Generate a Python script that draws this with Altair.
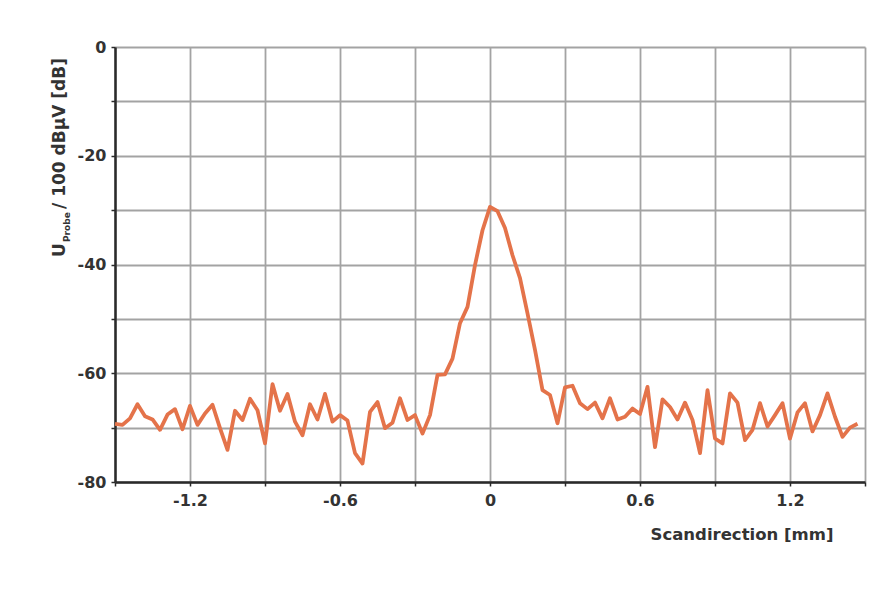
import altair as alt
import pandas as pd

scan_mm = [-1.50, -1.47, -1.44, -1.41, -1.38, -1.35, -1.32, -1.29, -1.26, -1.23,
           -1.20, -1.17, -1.14, -1.11, -1.08, -1.05, -1.02, -0.99, -0.96, -0.93,
           -0.90, -0.87, -0.84, -0.81, -0.78, -0.75, -0.72, -0.69, -0.66, -0.63,
           -0.60, -0.57, -0.54, -0.51, -0.48, -0.45, -0.42, -0.39, -0.36, -0.33,
           -0.30, -0.27, -0.24, -0.21, -0.18, -0.15, -0.12, -0.09, -0.06, -0.03,
           0.00, 0.03, 0.06, 0.09, 0.12, 0.15, 0.18, 0.21, 0.24, 0.27,
           0.30, 0.33, 0.36, 0.39, 0.42, 0.45, 0.48, 0.51, 0.54, 0.57,
           0.60, 0.63, 0.66, 0.69, 0.72, 0.75, 0.78, 0.81, 0.84, 0.87,
           0.90, 0.93, 0.96, 0.99, 1.02, 1.05, 1.08, 1.11, 1.14, 1.17,
           1.20, 1.23, 1.26, 1.29, 1.32, 1.35, 1.38, 1.41, 1.44, 1.47]

u_probe_db = [-69.3, -69.5, -68.3, -65.7, -67.9, -68.5, -70.4, -67.6, -66.6, -70.3,
              -66.0, -69.5, -67.4, -65.8, -70.1, -74.1, -66.9, -68.6, -64.7, -66.8,
              -72.9, -62.0, -66.9, -63.8, -68.9, -71.4, -65.7, -68.5, -63.8, -68.9,
              -67.7, -68.7, -74.7, -76.6, -67.1, -65.3, -70.1, -69.1, -64.6, -68.6,
              -67.7, -71.1, -67.7, -60.3, -60.2, -57.3, -50.8, -47.8, -40.1, -33.7,
              -29.4, -30.2, -33.3, -38.3, -42.5, -49.0, -55.7, -63.1, -64.0, -69.2,
              -62.6, -62.3, -65.5, -66.6, -65.4, -68.3, -64.6, -68.5, -68.0, -66.5,
              -67.5, -62.5, -73.6, -64.8, -66.2, -68.5, -65.4, -68.6, -74.7, -63.1,
              -72.0, -72.9, -63.7, -65.4, -72.3, -70.4, -65.5, -69.8, -67.7, -65.5,
              -72.0, -67.2, -65.5, -70.7, -67.7, -63.7, -68.0, -71.7, -70.0, -69.3]

x_ticks = [-1.5, -1.2, -0.9, -0.6, -0.3, 0.0, 0.3, 0.6, 0.9, 1.2, 1.5]
y_ticks = [-80, -70, -60, -50, -40, -30, -20, -10, 0]

df = pd.DataFrame({"x": scan_mm, "y": u_probe_db})

FONT = "DejaVu Sans"
TXT = "#333333"

x_axis = alt.Axis(
    values=x_ticks,
    labelExpr="abs(round(datum.value/0.3)) % 2 == 0 && abs(datum.value) < 1.4 ? "
              "(abs(datum.value) < 0.001 ? '0' : replace(format(datum.value, '.1f'), '\u2212', '-')) : ''",
    title="Scandirection [mm]",
    titleAnchor="end",
    titleAlign="right",
    titleX=718,
    titleY=57,
    titleBaseline="alphabetic",
    titleFont=FONT, titleFontSize=16.5, titleFontWeight="bold", titleColor=TXT,
    labelFont=FONT, labelFontSize=16, labelFontWeight="bold", labelColor=TXT,
    labelPadding=6, labelFlush=False,
    tickSize=4, tickColor="#2a2a2a", tickWidth=1.5,
    domainColor="#2a2a2a", domainWidth=2.5,
    gridColor="#a3a3a3", gridWidth=1.8,
)

y_axis = alt.Axis(
    values=y_ticks,
    labelExpr="datum.value % 20 == 0 ? replace(datum.label, '\u2212', '-') : ''",
    title=None,
    labelFont=FONT, labelFontSize=16, labelFontWeight="bold", labelColor=TXT,
    labelPadding=5,
    tickSize=4, tickColor="#2a2a2a", tickWidth=1.5,
    domainColor="#2a2a2a", domainWidth=2.5,
    gridColor="#a3a3a3", gridWidth=1.8,
)

line = alt.Chart(df).mark_line(color="#E4734A", strokeWidth=3.8, strokeJoin="round").encode(
    x=alt.X("x:Q", scale=alt.Scale(domain=[-1.5, 1.5], nice=False, zero=False), axis=x_axis),
    y=alt.Y("y:Q", scale=alt.Scale(domain=[-80, 0], nice=False), axis=y_axis),
)

t_u = alt.Chart(pd.DataFrame({"t": ["U"]})).mark_text(
    angle=270, align="left", baseline="alphabetic", font=FONT, fontSize=17,
    fontWeight="bold", color=TXT
).encode(text="t:N", x=alt.value(-50), y=alt.value(210))

t_sub = alt.Chart(pd.DataFrame({"t": ["Probe"]})).mark_text(
    angle=270, align="left", baseline="alphabetic", font=FONT, fontSize=9,
    fontWeight="bold", color=TXT
).encode(text="t:N", x=alt.value(-45), y=alt.value(195))

t_rest = alt.Chart(pd.DataFrame({"t": ["/ 100 dB\u00b5V [dB]"]})).mark_text(
    angle=270, align="left", baseline="alphabetic", font=FONT, fontSize=17,
    fontWeight="bold", color=TXT
).encode(text="t:N", x=alt.value(-50), y=alt.value(162))

chart = alt.layer(line, t_u, t_sub, t_rest).properties(
    width=750, height=435,
    autosize=alt.AutoSizeParams(type="none"),
    padding={"left": 107, "top": 39, "right": 13, "bottom": 104},
    background="white",
).configure_view(stroke=None)

chart.save("out.html", embed_options={"renderer": "svg", "actions": False})
